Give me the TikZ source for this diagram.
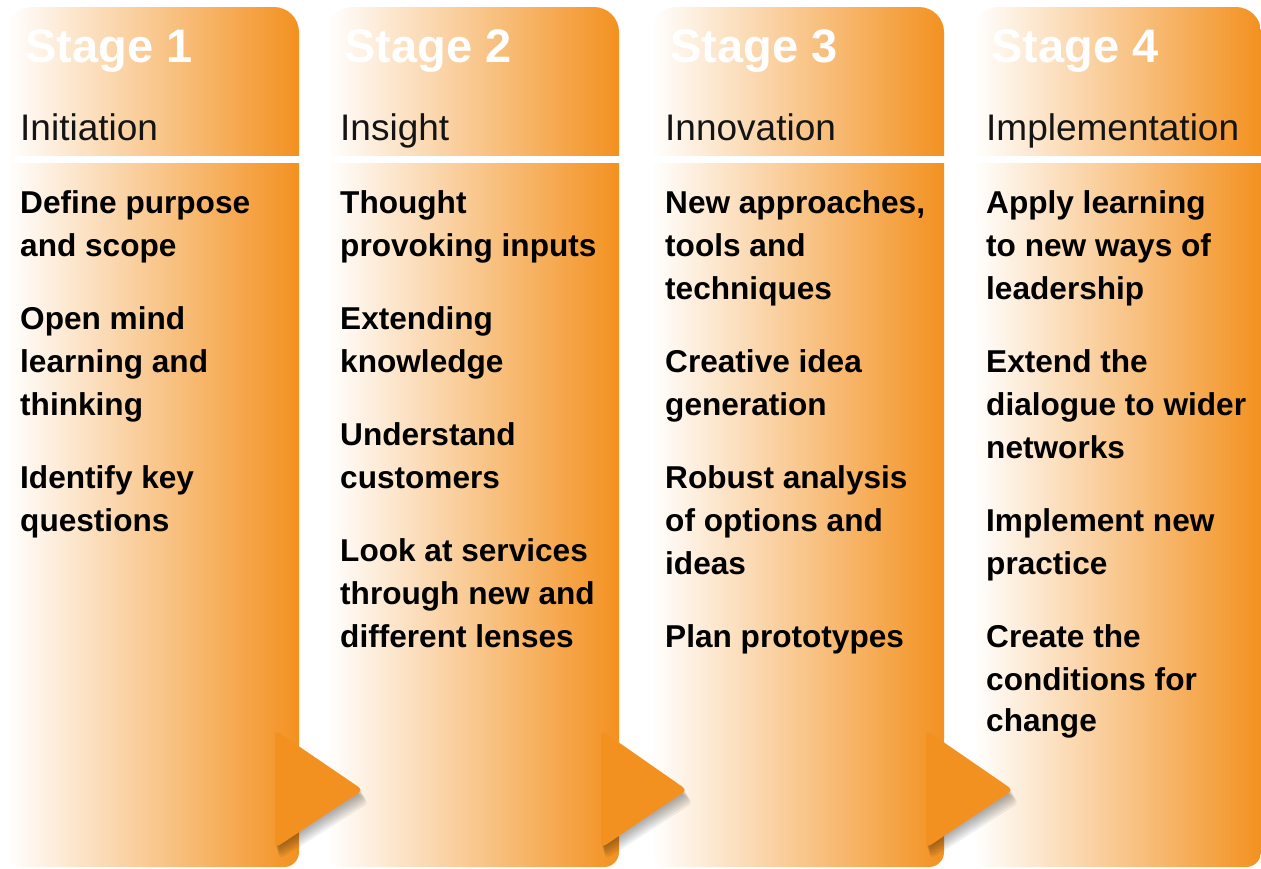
\documentclass[tikz,border=0pt]{standalone}
\usepackage{fontspec}
\setmainfont{Liberation Sans}
\definecolor{orng}{RGB}{243,145,32}
\definecolor{subt}{RGB}{20,20,20}
\begin{document}
\begin{tikzpicture}[x=1pt,y=-1pt,
  stagetxt/.style={anchor=base west,inner sep=0pt,text=white,font=\fontsize{47}{50}\selectfont\bfseries},
  subtxt/.style={anchor=base west,inner sep=0pt,text=subt,font=\fontsize{37}{42}\selectfont},
  bultxt/.style={anchor=base west,inner sep=0pt,text=black,font=\fontsize{31.6}{43}\selectfont\bfseries},
  colshade/.style={left color=white,right color=orng},
  arrowshape/.style={fill=orng,rounded corners=5pt},
  shadowshape/.style={fill=black,fill opacity=0.06,rounded corners=7pt}]
\useasboundingbox (0,0) rectangle (1261,868);
% columns
\foreach \xa/\xb in {7/299, 327/619, 651/944, 973/1261}{
  \shade[colshade] [rounded corners=15pt] (\xa,867) -- (\xb,867) [rounded corners=25pt] -- (\xb,7) -- (\xa,7) [rounded corners=15pt] -- cycle;
}
% separator
\draw[white,line width=7pt] (12,159) -- (1261,159);
% arrows with shadows
\foreach \l/\tp in {275/363, 601/687, 926/1013}{
  \foreach \d in {2,4,6,8,10,12}{
    \fill[shadowshape] (\l+\d*0.3,730+\d) -- (\tp+\d*0.6,790+\d) -- (\l+\d*0.3,848+\d) -- cycle;
  }
  \fill[arrowshape] (\l,730) -- (\tp,790) -- (\l,848) -- cycle;
}
% headers
\node[stagetxt] (s1) at (25,62) {Stage 1};
\node[stagetxt] (s2) at (344,62) {Stage 2};
\node[stagetxt] (s3) at (670,62) {Stage 3};
\node[stagetxt] (s4) at (991,62) {Stage 4};
\node[subtxt] (t1) at (20,140) {Initiation};
\node[subtxt] (t2) at (340,140) {Insight};
\node[subtxt] (t3) at (665,140) {Innovation};
\node[subtxt] (t4) at (986,140) {Implementation};
% bullets column 1
\foreach \y/\t [count=\i] in {213/Define purpose, 256/and scope, 329/Open mind, 372/learning and, 415/thinking, 488/Identify key, 531/questions}
  \node[bultxt] (a\i) at (20,\y) {\t};
% column 2
\foreach \y/\t [count=\i] in {213/Thought, 256/provoking inputs, 329/Extending, 372/knowledge, 445/Understand, 488/customers, 561/Look at services, 604/through new and, 647/different lenses}
  \node[bultxt] (b\i) at (340,\y) {\t};
% column 3
\foreach \y/\t [count=\i] in {213/{New approaches,}, 256/tools and, 299/techniques, 372/Creative idea, 415/generation, 488/Robust analysis, 531/of options and, 574/ideas, 647/Plan prototypes}
  \node[bultxt] (c\i) at (665,\y) {\t};
% column 4
\foreach \y/\t [count=\i] in {213/Apply learning, 256/to new ways of, 299/leadership, 372/Extend the, 415/dialogue to wider, 458/networks, 531/Implement new, 574/practice, 647/Create the, 690/conditions for, 731/change}
  \node[bultxt] (d\i) at (986,\y) {\t};
\end{tikzpicture}
\end{document}
